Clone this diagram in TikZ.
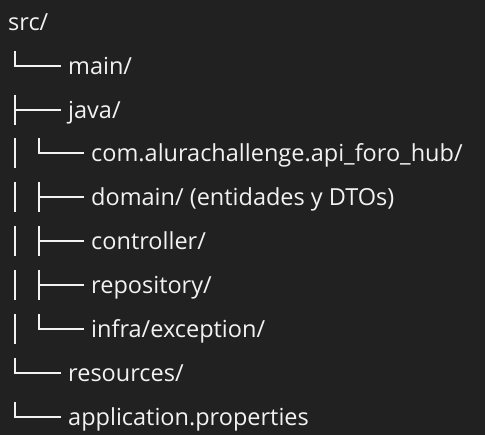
\documentclass[tikz,border=0pt]{standalone}
\usepackage{fontspec}
\setmainfont{Open Sans}
\usepackage{xcolor}
\usetikzlibrary{positioning}
\definecolor{bg}{HTML}{212121}
\definecolor{fg}{HTML}{F2F2F2}
\newfontfamily\treefont{Open Sans}
\tikzstyle{entry}=[anchor=west, inner sep=0pt, text height=17pt, text depth=0pt, text=fg, font=\treefont\fontsize{23.5}{28}\selectfont]
\tikzstyle{branch}=[draw=fg, line width=2pt]

\begin{document}
\begin{tikzpicture}[x=1pt, y=-1pt]
    \fill[bg] (0,0) rectangle (485,435);
    \useasboundingbox (0,0) rectangle (485,435);

    \node[entry] (src)        at (8,21.8)   {src/};
    \node[entry] (main)       at (68,65.7)  {main/};
    \node[entry] (java)       at (68,109.6) {java/};
    \node[entry] (pkg)        at (91,153.5) {com.alurachallenge.api\_foro\_hub/};
    \node[entry] (domain)     at (91,197.4) {domain/ (entidades y DTOs)};
    \node[entry] (controller) at (91,241.3) {controller/};
    \node[entry] (repository) at (91,285.2) {repository/};
    \node[entry] (infra)      at (91,329.1) {infra/exception/};
    \node[entry] (resources)  at (68,373.0) {resources/};
    \node[entry] (props)      at (68,416.9) {application.properties};

    % first level
    \draw[branch] ([xshift=-7pt]main.west) -| ++(-46,-15);
    \draw[branch] ([xshift=-7pt]java.west) -- ++(-46,0) ++(0,-15) -- ++(0,30);
    \draw[branch] ([xshift=-7pt]resources.west) -| ++(-46,-15);
    \draw[branch] ([xshift=-7pt]props.west) -| ++(-46,-15);

    % second level
    \draw[branch] ([xshift=-7pt]pkg.west) -| ++(-45,-15);
    \draw[branch] ([xshift=-7pt]domain.west) -- ++(-45,0) ++(0,-15) -- ++(0,30);
    \draw[branch] ([xshift=-7pt]controller.west) -- ++(-45,0) ++(0,-15) -- ++(0,30);
    \draw[branch] ([xshift=-7pt]repository.west) -- ++(-45,0) ++(0,-15) -- ++(0,30);
    \draw[branch] ([xshift=-7pt]infra.west) -| ++(-45,-15);

    % pipes
    \foreach \row in {pkg, domain, controller, repository, infra}
        \draw[branch] ([xshift=-76pt]\row.west) ++(0,-15) -- ++(0,30);
\end{tikzpicture}
\end{document}
